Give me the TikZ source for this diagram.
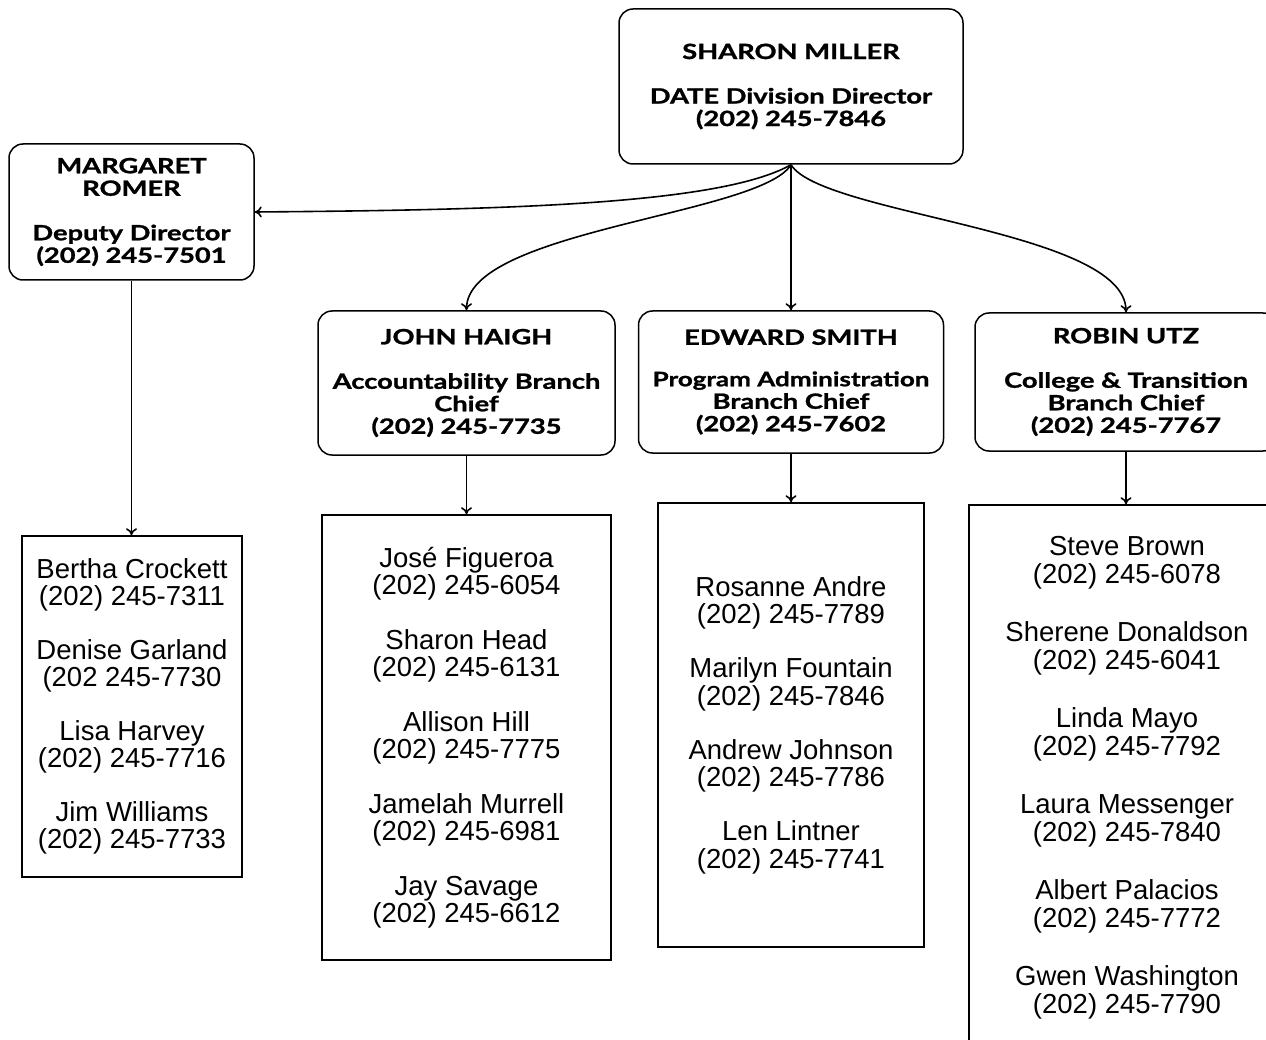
\documentclass[tikz,border=0pt]{standalone}
\usepackage{fontspec}
\setmainfont{Liberation Sans}
\newfontfamily\titlefont{Lato}[FakeStretch=1.3,BoldFeatures={FakeStretch=1.3,FakeBold=1.2}]
\usetikzlibrary{arrows.meta}
\begin{document}
\begin{tikzpicture}[x=1pt,y=-1pt,
  mgr/.style={draw, line width=1.5pt, rounded corners=14pt, align=center,
    font=\titlefont\bfseries\fontsize{21}{22.5}\selectfont, inner sep=0pt},
  staff/.style={draw, line width=1.5pt, align=center,
    font=\fontsize{27.5}{27.5}\selectfont, inner sep=0pt},
  link/.style={line width=1.6pt, -{To[length=7pt,width=11pt]}}]
\useasboundingbox (0,0) rectangle (1266,1040);
\clip (0,0) rectangle (1266,1040);
% managers
\node[mgr, minimum width=344pt, minimum height=155pt] (sharon) at (791,86.5)
  {SHARON MILLER\\[22pt]DATE Division Director\\(202) 245-7846};
\node[mgr, minimum width=245pt, minimum height=136pt] (margaret) at (131.5,212)
  {MARGARET\\ROMER\\[22pt]Deputy Director\\(202) 245-7501};
\node[mgr, minimum width=297pt, minimum height=144pt] (john) at (466.5,383)
  {JOHN HAIGH\\[22pt]Accountability Branch\\Chief\\(202) 245-7735};
\node[mgr, minimum width=305pt, minimum height=142pt] (edward) at (791,382)
  {EDWARD SMITH\\[19pt]{\fontsize{20}{22.5}\selectfont Program Administration}\\Branch Chief\\(202) 245-7602};
\node[mgr, minimum width=302pt, minimum height=138pt] (robin) at (1126,382)
  {ROBIN UTZ\\[22pt]College \& Transition\\Branch Chief\\(202) 245-7767};
% staff
\node[staff, minimum width=220pt, minimum height=341pt] (mstaff) at (132,706.5)
  {Bertha Crockett\\(202) 245-7311\\[26pt]Denise Garland\\(202 245-7730\\[26pt]Lisa Harvey\\(202) 245-7716\\[26pt]Jim Williams\\(202) 245-7733};
\node[staff, minimum width=289pt, minimum height=445pt] (jstaff) at (466.5,737.5)
  {José Figueroa\\(202) 245-6054\\[27pt]Sharon Head\\(202) 245-6131\\[27pt]Allison Hill\\(202) 245-7775\\[27pt]Jamelah Murrell\\(202) 245-6981\\[27pt]Jay Savage\\(202) 245-6612};
\node[staff, minimum width=266pt, minimum height=444pt] (estaff) at (791,725)
  {Rosanne Andre\\(202) 245-7789\\[26.5pt]Marilyn Fountain\\(202) 245-7846\\[26.5pt]Andrew Johnson\\(202) 245-7786\\[26.5pt]Len Lintner\\(202) 245-7741};
\node[staff, minimum width=316pt, minimum height=545pt] (rstaff) at (1127,777.5)
  {Steve Brown\\(202) 245-6078\\[31pt]Sherene Donaldson\\(202) 245-6041\\[31pt]Linda Mayo\\(202) 245-7792\\[31pt]Laura Messenger\\(202) 245-7840\\[31pt]Albert Palacios\\(202) 245-7772\\[31pt]Gwen Washington\\(202) 245-7790};
% connectors
\draw[link] (sharon.south) .. controls (720,205) and (500,210) .. (margaret.east);
\draw[link] (sharon.south) .. controls (760,215) and (466.5,230) .. (john.north);
\draw[link] (sharon.south) -- (edward.north);
\draw[link] (sharon.south) .. controls (822,215) and (1126,230) .. (robin.north);
\draw[link] (margaret.south) -- (margaret.south |- mstaff.north);
\draw[link] (john.south) -- (jstaff.north);
\draw[link] (edward.south) -- (estaff.north);
\draw[link] (robin.south) -- (robin.south |- rstaff.north);
\end{tikzpicture}
\end{document}
